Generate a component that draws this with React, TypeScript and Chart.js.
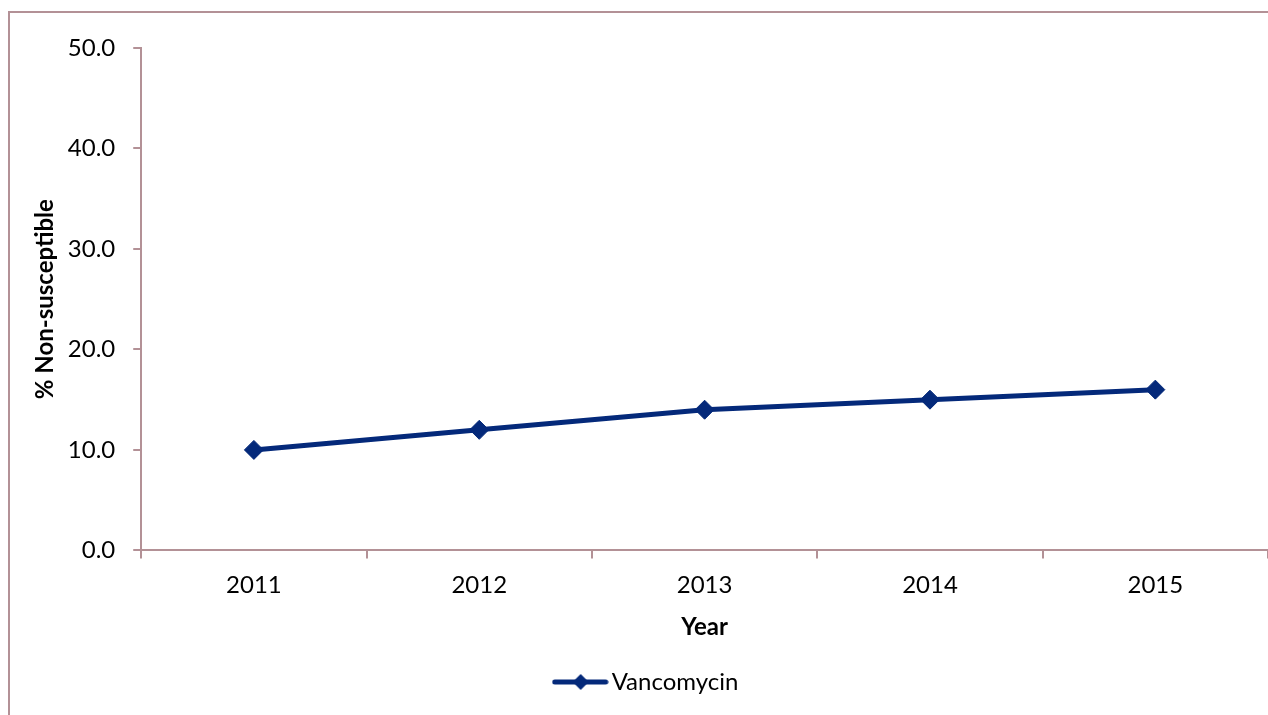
import React, { useEffect, useRef } from "react";
import { Chart, registerables } from "chart.js";

Chart.register(...registerables);

const years: string[] = ["2011", "2012", "2013", "2014", "2015"];
const vancomycin: number[] = [10.0, 12.0, 14.0, 15.0, 16.0];
const seriesName = "Vancomycin";
const yTitle = "% Non-susceptible";
const xTitle = "Year";

const W = 1305;
const H = 730;
const FONT = "Lato";
const FS = 24;
const AXIS = "#b39196";
const LINE = "#04297a";

function makeLegendMarker(): HTMLCanvasElement {
  const c = document.createElement("canvas");
  c.width = 57;
  c.height = 18;
  const ctx = c.getContext("2d")!;
  ctx.strokeStyle = LINE;
  ctx.lineWidth = 5;
  ctx.lineCap = "round";
  ctx.beginPath();
  ctx.moveTo(3, 9);
  ctx.lineTo(54, 9);
  ctx.stroke();
  ctx.fillStyle = LINE;
  ctx.beginPath();
  ctx.moveTo(29, 1);
  ctx.lineTo(37, 9);
  ctx.lineTo(29, 17);
  ctx.lineTo(21, 9);
  ctx.closePath();
  ctx.fill();
  return c;
}

const framePlugin = {
  id: "frame",
  beforeDraw(chart: any) {
    const ctx = chart.ctx;
    ctx.save();
    ctx.fillStyle = "#ffffff";
    ctx.fillRect(0, 0, chart.width, chart.height);
    ctx.strokeStyle = AXIS;
    ctx.lineWidth = 2;
    ctx.strokeRect(9, 12, chart.width + 40, chart.height + 40);
    ctx.restore();
  },
};

export default function App() {
  const ref = useRef<HTMLCanvasElement | null>(null);

  useEffect(() => {
    if (!ref.current) return;
    const marker = makeLegendMarker();
    const chart = new Chart(ref.current, {
      type: "line",
      data: {
        labels: years,
        datasets: [
          {
            label: seriesName,
            data: vancomycin,
            borderColor: LINE,
            backgroundColor: LINE,
            borderWidth: 5,
            pointStyle: "rectRot",
            pointRadius: 9.5,
            pointBorderWidth: 1,
            pointBackgroundColor: LINE,
            pointBorderColor: LINE,
            tension: 0,
          },
        ],
      },
      options: {
        responsive: false,
        animation: false,
        layout: { padding: { top: 48, left: 31, right: W - 1268, bottom: 26 } },
        plugins: {
          tooltip: { enabled: false },
          legend: {
            position: "bottom",
            labels: {
              usePointStyle: true,
              pointStyleWidth: 39,
              color: "#000",
              font: { family: FONT, size: FS },
              padding: 10,
              generateLabels: (c: any) =>
                c.data.datasets.map((ds: any, i: number) => ({
                  text: ds.label,
                  pointStyle: marker,
                  fillStyle: LINE,
                  strokeStyle: LINE,
                  lineWidth: 0,
                  hidden: false,
                  datasetIndex: i,
                  fontColor: "#000",
                })),
            },
          },
        },
        scales: {
          x: {
            type: "category",
            offset: true,
            grid: {
              offset: true,
              drawOnChartArea: false,
              drawTicks: true,
              tickLength: 8,
              color: AXIS,
              lineWidth: 2,
            },
            border: { color: AXIS, width: 2 },
            ticks: { color: "#000", font: { family: FONT, size: FS }, padding: 12 },
            title: {
              display: true,
              text: xTitle,
              color: "#000",
              font: { family: FONT, size: FS, weight: "bold" },
              padding: { top: 2, bottom: 18 },
            },
          },
          y: {
            min: 0,
            max: 50,
            ticks: {
              stepSize: 10,
              color: "#000",
              font: { family: FONT, size: FS },
              padding: 18,
              callback: (v: any) => Number(v).toFixed(1),
            },
            grid: {
              drawOnChartArea: false,
              drawTicks: true,
              tickLength: 8,
              color: AXIS,
              lineWidth: 2,
            },
            border: { color: AXIS, width: 2 },
            title: {
              display: true,
              text: yTitle,
              color: "#000",
              font: { family: FONT, size: FS, weight: "bold" },
              padding: { top: 0, bottom: -10 },
            },
          },
        },
      },
      plugins: [framePlugin],
    });
    return () => chart.destroy();
  }, []);

  return (
    <div
      style={{
        position: "fixed",
        left: 0,
        top: 0,
        width: 1268,
        height: 715,
        overflow: "hidden",
        background: "#fff",
      }}
    >
      <canvas ref={ref} width={W} height={H} style={{ width: W, height: H, display: "block" }} />
    </div>
  );
}
